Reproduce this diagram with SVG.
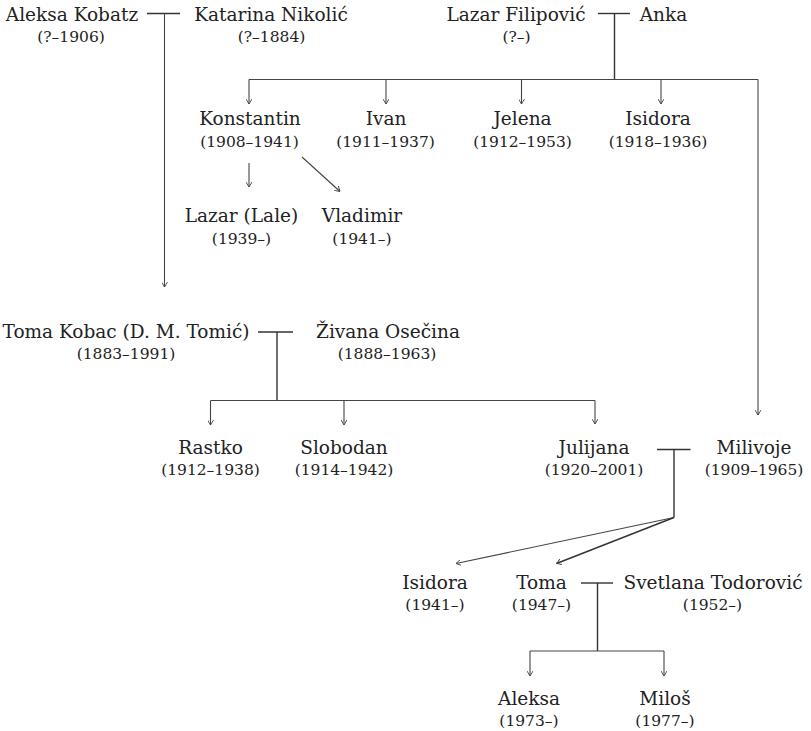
<svg xmlns="http://www.w3.org/2000/svg" width="811" height="731" viewBox="0 0 811 731">
<style>
text{font-family:"DejaVu Serif","Liberation Serif",serif;fill:#222;text-anchor:middle}
.n{font-size:18.5px}
.d{font-size:15.5px}
.c line,.c polyline,.c path{fill:none;stroke:#444;stroke-width:1.1}
.c .m{stroke:#333;stroke-width:1.4}
.c .a{marker-end:url(#ah)}
</style>
<defs>
<marker id="ah" viewBox="0 0 5 6" markerWidth="5" markerHeight="6" refX="5" refY="3" orient="auto" markerUnits="userSpaceOnUse">
<path d="M0,0 L5,3 L0,6" fill="none" stroke="#444" stroke-width="0.9"/>
</marker>
</defs>
<rect width="811" height="731" fill="#fff"/>
<g class="c" id="connectors">
<line class="m" x1="147" y1="13.5" x2="180" y2="13.5"/>
<line class="a" x1="164.5" y1="13.5" x2="164.5" y2="287"/>
<line class="m" x1="598" y1="13.5" x2="630" y2="13.5"/>
<line class="m" x1="614.5" y1="13.5" x2="614.5" y2="79.5"/>
<line x1="249" y1="79.5" x2="758" y2="79.5"/>
<line class="a" x1="249" y1="79.5" x2="249" y2="104"/>
<line class="a" x1="386" y1="79.5" x2="386" y2="104"/>
<line class="a" x1="521.5" y1="79.5" x2="521.5" y2="104"/>
<line class="a" x1="661" y1="79.5" x2="661" y2="104"/>
<line class="a" x1="758" y1="79.5" x2="758" y2="415"/>
<line class="a" x1="249" y1="163" x2="249" y2="187"/>
<line class="a" x1="302" y1="157" x2="340" y2="191.5"/>
<line class="m" x1="258" y1="332" x2="293" y2="332"/>
<line class="m" x1="277" y1="332" x2="277" y2="400.5"/>
<line x1="210.5" y1="400.5" x2="595" y2="400.5"/>
<line class="a" x1="210.5" y1="400.5" x2="210.5" y2="425"/>
<line class="a" x1="344" y1="400.5" x2="344" y2="425"/>
<line class="a" x1="595" y1="400.5" x2="595" y2="424"/>
<line class="m" x1="657" y1="449.5" x2="690.5" y2="449.5"/>
<line class="m" x1="674" y1="449.5" x2="674" y2="517.5"/>
<line class="a" x1="674" y1="517.5" x2="456" y2="563.5"/>
<line class="a m" x1="674" y1="517.5" x2="556.5" y2="563.5"/>
<line class="m" x1="581" y1="583" x2="613" y2="583"/>
<line class="m" x1="597.5" y1="583" x2="597.5" y2="651"/>
<line x1="530" y1="651" x2="664" y2="651"/>
<line class="a" x1="530" y1="651" x2="530" y2="676"/>
<line class="a" x1="664" y1="651" x2="664" y2="676"/>
</g>
<g id="aleksa-kobatz"><text class="n" x="72" y="21">Aleksa Kobatz</text><text class="d" x="71" y="42">(?–1906)</text></g>
<g id="katarina-nikolic"><text class="n" x="271" y="21">Katarina Nikolić</text><text class="d" x="271.5" y="42">(?–1884)</text></g>
<g id="lazar-filipovic"><text class="n" x="516" y="21">Lazar Filipović</text><text class="d" x="516.5" y="42">(?–)</text></g>
<g id="anka"><text class="n" x="663.5" y="21">Anka</text></g>
<g id="konstantin"><text class="n" x="250" y="125">Konstantin</text><text class="d" x="249.5" y="146.5">(1908–1941)</text></g>
<g id="ivan"><text class="n" x="386" y="125">Ivan</text><text class="d" x="385.5" y="146.5">(1911–1937)</text></g>
<g id="jelena"><text class="n" x="522.5" y="125">Jelena</text><text class="d" x="522.5" y="146.5">(1912–1953)</text></g>
<g id="isidora-1918"><text class="n" x="658" y="125">Isidora</text><text class="d" x="658" y="146.5">(1918–1936)</text></g>
<g id="lazar-lale"><text class="n" x="241.5" y="222">Lazar (Lale)</text><text class="d" x="241.5" y="243.5">(1939–)</text></g>
<g id="vladimir"><text class="n" x="362" y="222">Vladimir</text><text class="d" x="362" y="243.5">(1941–)</text></g>
<g id="toma-kobac"><text class="n" x="126" y="337.5">Toma Kobac (D. M. Tomić)</text><text class="d" x="126" y="359">(1883–1991)</text></g>
<g id="zivana-osecina"><text class="n" x="388" y="337.5">Živana Osečina</text><text class="d" x="387" y="359">(1888–1963)</text></g>
<g id="rastko"><text class="n" x="210.5" y="454">Rastko</text><text class="d" x="210.5" y="475">(1912–1938)</text></g>
<g id="slobodan"><text class="n" x="344" y="454">Slobodan</text><text class="d" x="344" y="475">(1914–1942)</text></g>
<g id="julijana"><text class="n" x="594" y="454">Julijana</text><text class="d" x="594" y="475">(1920–2001)</text></g>
<g id="milivoje"><text class="n" x="754" y="454">Milivoje</text><text class="d" x="754" y="475">(1909–1965)</text></g>
<g id="isidora-1941"><text class="n" x="435" y="589">Isidora</text><text class="d" x="435" y="610">(1941–)</text></g>
<g id="toma"><text class="n" x="541.5" y="589">Toma</text><text class="d" x="541.5" y="610">(1947–)</text></g>
<g id="svetlana-todorovic"><text class="n" x="713" y="589">Svetlana Todorović</text><text class="d" x="712.5" y="610">(1952–)</text></g>
<g id="aleksa"><text class="n" x="529" y="705">Aleksa</text><text class="d" x="529" y="726">(1973–)</text></g>
<g id="milos"><text class="n" x="665" y="705">Miloš</text><text class="d" x="665" y="726">(1977–)</text></g>
</svg>
